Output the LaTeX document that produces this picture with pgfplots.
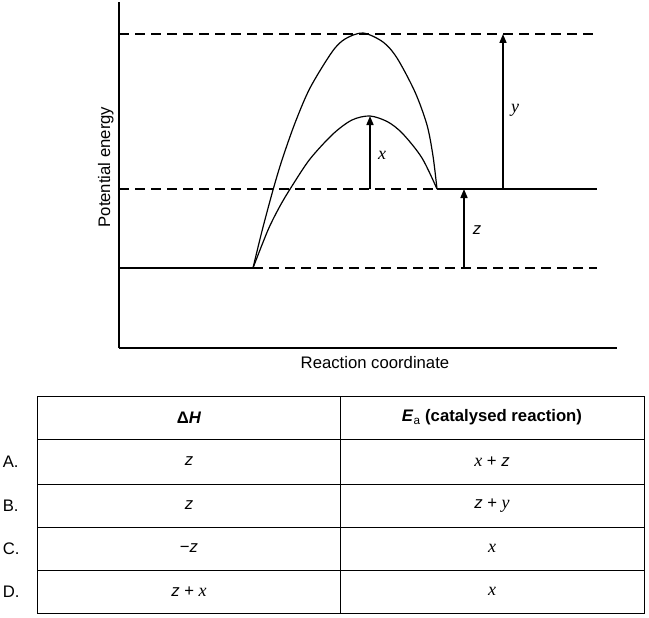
\documentclass[border=0pt]{standalone}
\usepackage{fontspec}
\setmainfont{Liberation Sans}
\newfontfamily\seriffont{Liberation Serif}
\usepackage{pgfplots}
\pgfplotsset{compat=1.18}
\usetikzlibrary{arrows.meta}
\newcommand{\vx}{{\seriffont\itshape\fontsize{18bp}{20bp}\selectfont x}}
\newcommand{\vy}{{\seriffont\itshape\fontsize{18bp}{20bp}\selectfont y}}
\newcommand{\vz}{{\itshape z}}
\begin{document}
\fontsize{16.7bp}{19bp}\selectfont
\begin{tikzpicture}
\path[use as bounding box] (0,0) rectangle (649bp,-618bp);
\begin{axis}[
  at={(119bp,-348bp)}, anchor=south west,
  scale only axis, width=498bp, height=346bp,
  xmin=119, xmax=617, ymin=0, ymax=346,
  axis x line=bottom, axis y line=left,
  axis line style={-, line width=1.5bp, black},
  xtick=\empty, ytick=\empty,
  clip=false,
  xlabel={Reaction coordinate},
  ylabel={Potential energy},
  xlabel style={at={(axis description cs:0.514,0)}, anchor=base, yshift=-20bp, font=\fontsize{16.7bp}{19bp}\selectfont},
  ylabel style={at={(axis description cs:-0.018,0.523)}, anchor=base, rotate=0, font=\fontsize{16.7bp}{19bp}\selectfont},
]
% energy levels
\addplot[black, line width=1.6bp, dash pattern=on 10bp off 6bp] coordinates {(119,314) (597,314)};
\addplot[black, line width=1.6bp, dash pattern=on 10bp off 6bp] coordinates {(119,159) (437,159)};
\addplot[black, line width=1.6bp] coordinates {(437,159) (597,159)};
\addplot[black, line width=1.6bp] coordinates {(119,80) (253,80)};
\addplot[black, line width=1.6bp, dash pattern=on 10bp off 6bp] coordinates {(253,80) (597,80)};
% uncatalysed
\addplot[black, line width=1.2bp, smooth, tension=0.5] coordinates {
 (253,80) (262,117) (273,158) (282,188) (295,225) (310,260) (332,296) (345,309) (363,315) (383,306) (397,290) (415,256) (427,223) (433,192) (437,159)};
% catalysed
\addplot[black, line width=1.2bp, smooth, tension=0.5] coordinates {
 (253,80) (268,118) (280,142) (292,162) (310,189) (333,214) (352,228) (370,232) (388,226) (403,214) (422,190) (437,159)};
% arrows
\addplot[black, line width=1.6bp, -{Triangle[length=9bp,width=7bp]}] coordinates {(370,159) (370,232)};
\addplot[black, line width=1.6bp, -{Triangle[length=9bp,width=7bp]}] coordinates {(503,159) (503,314)};
\addplot[black, line width=1.6bp, -{Triangle[length=9bp,width=7bp]}] coordinates {(464,80) (464,159)};
\node at (axis cs:382,193) {\vx};
\node at (axis cs:515,238) {\vy};
\node at (axis cs:477,118) {\vz};
\end{axis}
% table
\draw[line width=1bp] (37bp,-396bp) rectangle (644bp,-613bp);
\draw[line width=1bp] (340bp,-396bp) -- (340bp,-613bp);
\foreach \yy in {439,484,527,570} {\draw[line width=1bp] (37bp,-\yy bp) -- (644bp,-\yy bp);}
\node at (189bp,-417.5bp) {\textbf{Δ\textit{H}}};
\node at (492bp,-417.5bp) {\textbf{\textit{E}\textsubscript{\normalfont a} (catalysed reaction)}};
\node[anchor=west] at (-3bp,-461.5bp) {A.};
\node[anchor=west] at (-3bp,-505.5bp) {B.};
\node[anchor=west] at (-3bp,-548.5bp) {C.};
\node[anchor=west] at (-3bp,-591.5bp) {D.};
\node at (189bp,-461.5bp) {\vz};
\node at (189bp,-505.5bp) {\vz};
\node at (189bp,-548.5bp) {−\vz};
\node at (189bp,-591.5bp) {\vz{} + \vx};
\node at (492bp,-461.5bp) {\vx{} + \vz};
\node at (492bp,-505.5bp) {\vz{} + \vy};
\node at (492bp,-548.5bp) {\vx};
\node at (492bp,-591.5bp) {\vx};
\end{tikzpicture}
\end{document}
